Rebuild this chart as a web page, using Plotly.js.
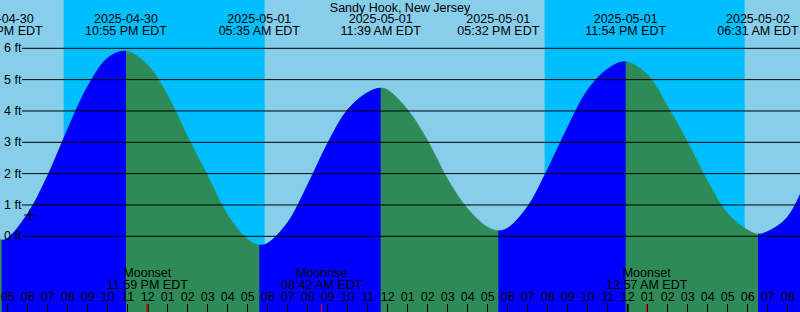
<!DOCTYPE html>
<html>
<head>
<meta charset="utf-8">
<script src="https://cdn.plot.ly/plotly-3.0.1.min.js"></script>
<style>html,body{margin:0;padding:0;background:#87CEEB;}#chart{width:800px;height:312px;}</style>
</head>
<body>
<div id="chart"></div>
<script>
// ---- data ----
const stationName = 'Sandy Hook, New Jersey';
const tideTimes = [
  '2025-04-30 16:00','2025-04-30 16:42','2025-04-30 17:00','2025-04-30 18:00','2025-04-30 19:00',
  '2025-04-30 20:00','2025-04-30 21:00','2025-04-30 22:00','2025-04-30 22:55','2025-05-01 00:00',
  '2025-05-01 01:00','2025-05-01 02:00','2025-05-01 03:00','2025-05-01 04:00','2025-05-01 05:00',
  '2025-05-01 05:35','2025-05-01 06:00','2025-05-01 07:00','2025-05-01 08:00','2025-05-01 09:00',
  '2025-05-01 10:00','2025-05-01 11:00','2025-05-01 11:39','2025-05-01 12:00','2025-05-01 13:00',
  '2025-05-01 14:00','2025-05-01 15:00','2025-05-01 16:00','2025-05-01 17:00','2025-05-01 17:32',
  '2025-05-01 18:00','2025-05-01 19:00','2025-05-01 20:00','2025-05-01 21:00','2025-05-01 22:00',
  '2025-05-01 23:00','2025-05-01 23:54','2025-05-02 01:00','2025-05-02 02:00','2025-05-02 03:00',
  '2025-05-02 04:00','2025-05-02 05:00','2025-05-02 06:00','2025-05-02 06:31','2025-05-02 07:00',
  '2025-05-02 08:00','2025-05-02 09:00'
];
const tideFeet = [
  0.15,-0.12,-0.06,0.72,1.93,
  3.42,4.78,5.69,5.91,5.47,
  4.49,3.18,1.93,0.68,-0.10,
  -0.28,-0.22,0.44,1.64,2.97,
  4.04,4.59,4.73,4.67,4.04,
  3.05,1.82,0.88,0.29,0.18,
  0.26,0.95,2.14,3.48,4.67,
  5.34,5.57,5.15,4.14,3.00,
  1.75,0.73,0.20,0.07,0.15,
  0.62,1.90
];
const extremeTimes = ['2025-04-30 16:42','2025-04-30 22:55','2025-05-01 05:35','2025-05-01 11:39',
                      '2025-05-01 17:32','2025-05-01 23:54','2025-05-02 06:31'];
const extremeKinds = ['Low','High','Low','High','Low','High','Low'];
const sunsetTimes  = ['2025-04-30 19:48','2025-05-01 19:51'];
const sunriseTimes = ['2025-05-01 05:51','2025-05-02 05:51'];
const moonNames = ['Moonset','Moonrise','Moonset','Moonrise'];
const moonTimes = ['2025-04-30 23:59','2025-05-01 08:42','2025-05-02 00:57','2025-05-02 09:47'];
const midnightTimes = ['2025-05-01 00:00','2025-05-02 00:00'];
const gridFeet = [0,1,2,3,4,5,6];
const nowTime = ['2025-04-30 18:06'];
const nowFeet = [0.68];

// ---- styling / scale helpers ----
const DAY = '#87CEEB', NIGHT = '#00BFFF', FLOOD = '#0000FF', EBB = '#2E8B57';
const FONT = {family: 'Liberation Sans, Arial, sans-serif', size: 12.5, color: '#000'};
const X_RANGE = ['2025-04-30 16:37', '2025-05-02 08:37'];
const Y_RANGE = [-2.416, 7.542];
const ms = s => Date.parse(s.replace(' ', 'T') + ':00Z');
const frac = s => Math.min(1, Math.max(0, (ms(s) - ms(X_RANGE[0])) / (ms(X_RANGE[1]) - ms(X_RANGE[0]))));

function pad2(n){ return (n < 10 ? '0' : '') + n; }
function fmtTime(t){
  const hh = +t.slice(11,13), mm = t.slice(14,16);
  const ap = hh >= 12 ? 'PM' : 'AM';
  return pad2(hh % 12 || 12) + ':' + mm + ' ' + ap + ' EDT';
}

const traces = [];
const layout = {
  width: 800, height: 312, margin: {l: 0, r: 0, t: 0, b: 0},
  paper_bgcolor: DAY, plot_bgcolor: 'rgba(0,0,0,0)', showlegend: false,
  title: {text: stationName, x: 0.5, xanchor: 'center', y: 1 - 8/312, yanchor: 'middle', yref: 'container', font: FONT},
  yaxis: {range: Y_RANGE, visible: false, fixedrange: true, anchor: 'x'},
  xaxis: {type: 'date', range: X_RANGE, domain: [0, 1], visible: false, fixedrange: true, anchor: 'y'}
};

function tideArea(xaxisId, color){
  traces.push({x: [tideTimes[0], tideTimes[tideTimes.length-1]], y: [-5, -5], xaxis: xaxisId, yaxis: 'y',
               mode: 'lines', line: {width: 0, color: color}, hoverinfo: 'skip', showlegend: false});
  traces.push({x: tideTimes, y: tideFeet, xaxis: xaxisId, yaxis: 'y', mode: 'lines',
               line: {shape: 'spline', smoothing: 1, simplify: false, width: 0.6, color: color},
               fill: 'tonexty', fillcolor: color, hoverinfo: 'skip', showlegend: false});
}
// whole curve in ebb colour, then flood (rising) windows drawn in their own clipped subplots
tideArea('x', EBB);
let axN = 2;
const bounds = extremeTimes.concat([X_RANGE[1]]);
for (let i = 0; i < extremeTimes.length; i++) {
  if (extremeKinds[i] !== 'Low') continue;
  const a = extremeTimes[i], b = bounds[i + 1];
  layout['xaxis' + axN] = {type: 'date', range: [a, b], domain: [frac(a), frac(b)], visible: false,
                           fixedrange: true, anchor: 'y'};
  tideArea('x' + axN, FLOOD);
  axN++;
}
// top overlay axis: ticks, labels and text
const TOP = 'x' + axN;
layout['xaxis' + axN] = {type: 'date', range: X_RANGE, domain: [0, 1], anchor: 'y', tick0: '2025-04-30 17:00',
  dtick: 3600000, tickformat: '%I', ticks: 'inside', ticklen: 8, tickwidth: 1, tickcolor: '#000',
  ticklabelposition: 'inside', tickfont: FONT, showgrid: false, zeroline: false, showline: false, fixedrange: true};
layout.yaxis2 = {overlaying: 'y', range: [312, 0], visible: false, fixedrange: true, anchor: TOP};

traces.push({x: nowTime, y: nowFeet, xaxis: TOP, yaxis: 'y', mode: 'markers', showlegend: false, hoverinfo: 'skip',
             marker: {symbol: 'cross-thin', size: 8, line: {width: 1.2, color: '#000'}}});
function textRow(xs, texts, yPix){
  return {x: xs, y: xs.map(() => yPix), text: texts, mode: 'text', xaxis: TOP, yaxis: 'y2', cliponaxis: false,
          textposition: 'middle center', textfont: FONT, hoverinfo: 'skip', showlegend: false};
}
traces.push(textRow(extremeTimes, extremeTimes.map(t => t.slice(0,10)), 20));
traces.push(textRow(extremeTimes, extremeTimes.map(fmtTime), 32));
traces.push(textRow(moonTimes, moonNames, 273.5));
traces.push(textRow(moonTimes, moonTimes.map(fmtTime), 285.5));

const shapes = [];
for (let i = 0; i < sunsetTimes.length; i++) {
  shapes.push({type: 'rect', layer: 'below', xref: TOP, yref: 'paper', x0: sunsetTimes[i], x1: sunriseTimes[i],
               y0: 0, y1: 1, fillcolor: NIGHT, line: {width: 0}});
}
gridFeet.forEach(v => shapes.push({type: 'line', layer: 'above', xref: 'paper', yref: 'y',
  x0: 22/800, x1: 1, y0: v, y1: v, line: {color: '#000', width: 1}}));
midnightTimes.forEach(t => shapes.push({type: 'line', layer: 'above', xref: TOP, yref: 'paper',
  x0: t, x1: t, y0: 0, y1: 8/312, line: {color: '#000', width: 2}}));
moonTimes.forEach(t => shapes.push({type: 'line', layer: 'above', xref: TOP, yref: 'paper',
  x0: t, x1: t, y0: 0, y1: 8/312, line: {color: '#FF0000', width: 1}}));
layout.shapes = shapes;
layout.annotations = gridFeet.map(v => ({xref: 'paper', x: 0, xanchor: 'left', xshift: 2, yref: 'y', y: v,
  yanchor: 'middle', text: v + ' ft', showarrow: false, font: FONT}));

Plotly.newPlot('chart', traces, layout, {staticPlot: true, displayModeBar: false});
</script>
</body>
</html>
